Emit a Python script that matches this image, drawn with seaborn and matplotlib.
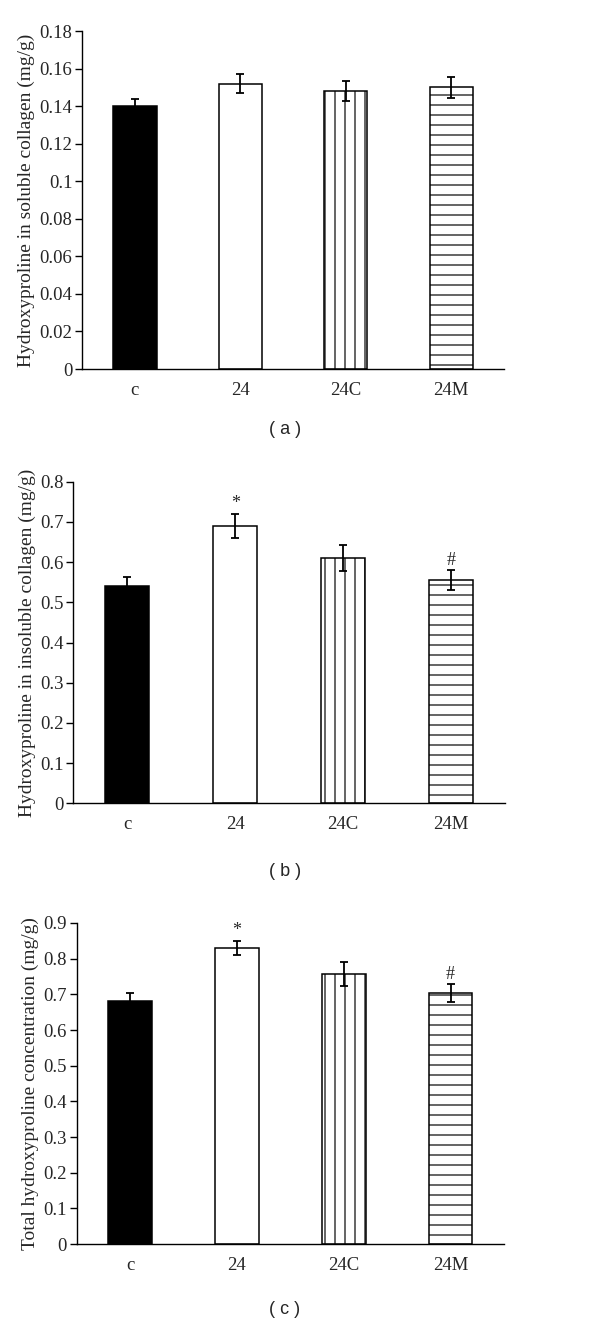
import matplotlib
matplotlib.use("Agg")
import matplotlib.pyplot as plt
import seaborn as sns
import pandas as pd
import numpy as np

categories = ["c", "24", "24C", "24M"]

soluble = [0.140, 0.152, 0.148, 0.150]
soluble_err = [0.004, 0.005, 0.0053, 0.0057]

insoluble = [0.540, 0.690, 0.610, 0.555]
insoluble_err = [0.024, 0.030, 0.032, 0.025]

total = [0.680, 0.830, 0.757, 0.703]
total_err = [0.025, 0.020, 0.035, 0.025]

marks_b = ["", "*", "", "#"]
marks_c = ["", "*", "", "#"]

ylabels = ["Hydroxyproline in soluble collagen (mg/g)",
           "Hydroxyproline in insoluble collagen (mg/g)",
           "Total hydroxyproline concentration (mg/g)"]
yticks_a = [0, 0.02, 0.04, 0.06, 0.08, 0.1, 0.12, 0.14, 0.16, 0.18]
yticks_b = [0, 0.1, 0.2, 0.3, 0.4, 0.5, 0.6, 0.7, 0.8]
yticks_c = [0, 0.1, 0.2, 0.3, 0.4, 0.5, 0.6, 0.7, 0.8, 0.9]
panel_labels = ["( a )", "( b )", "( c )"]

DPI = 120
k = 100 / DPI  # keep pixel sizes as designed at 100 dpi

sns.set_style("white")
plt.rcParams["font.family"] = ["Liberation Serif", "DejaVu Serif"]
plt.rcParams["hatch.linewidth"] = 0.85 * k
plt.rcParams["hatch.color"] = "black"

fig = plt.figure(figsize=(600 / DPI, 1325 / DPI), dpi=DPI)

positions = [
    [0.137, 0.7215, 0.703, 0.2551],
    [0.122, 0.3937, 0.720, 0.2427],
    [0.128, 0.0611, 0.712, 0.2423],
]
datasets = [(soluble, soluble_err, yticks_a, None),
            (insoluble, insoluble_err, yticks_b, marks_b),
            (total, total_err, yticks_c, marks_c)]
label_y = [1325 - 430, 1325 - 872, 1325 - 1310]

fills = ["black", "white", "white", "white"]
hatches = [None, None, "||", "--"]

def fmt(v):
    s = ("%.2f" % v).rstrip("0").rstrip(".")
    return s if s else "0"

for i, (vals, errs, ticks, marks) in enumerate(datasets):
    ax = fig.add_axes(positions[i])
    df = pd.DataFrame({"group": categories, "value": vals})
    sns.barplot(data=df, x="group", y="value", hue="group", palette=fills,
                edgecolor="black", linewidth=1.1 * k, width=0.41, legend=False,
                ax=ax, errorbar=None)
    for p, h in zip(ax.patches, hatches):
        if h:
            p.set_hatch(h)
    xs = np.arange(len(categories))
    ax.errorbar(xs, vals, yerr=errs, fmt="none", ecolor="black",
                elinewidth=1.3 * k, capsize=3 * k, capthick=1.3 * k, zorder=5)
    if marks:
        for x, v, e, m in zip(xs, vals, errs, marks):
            if m:
                ax.annotate(m, (x, v + e), xytext=(0, 1), textcoords="offset points",
                            ha="center", va="bottom", fontsize=13 * k)
    ax.set_xlim(-0.5, 3.5)
    ax.set_ylim(0, ticks[-1])
    ax.set_yticks(ticks)
    ax.set_yticklabels([fmt(t) for t in ticks], fontsize=13.5 * k)
    ax.set_xticks(xs)
    ax.set_xticklabels(categories, fontsize=13.5 * k)
    ax.tick_params(axis="x", length=0, pad=9 * k)
    ax.set_xticks(np.arange(-0.5, 4, 1), minor=True)
    ax.tick_params(axis="x", which="minor", length=5 * k, width=1 * k,
                   direction="out", color="black")
    ax.tick_params(axis="y", length=5 * k, width=1 * k, direction="out",
                   color="black", pad=2 * k, left=True)
    for s in ["top", "right"]:
        ax.spines[s].set_visible(False)
    for s in ["left", "bottom"]:
        ax.spines[s].set_color("black")
        ax.spines[s].set_linewidth(1 * k)
    ax.set_xlabel("")
    ax.set_ylabel(ylabels[i], fontsize=14 * k, labelpad=3 * k)
    fig.text(285 / 600, label_y[i] / 1325, panel_labels[i], ha="center", va="center",
             fontsize=13 * k, family=["Liberation Sans", "DejaVu Sans"])

fig.savefig("out.png", dpi=DPI, facecolor="white")
